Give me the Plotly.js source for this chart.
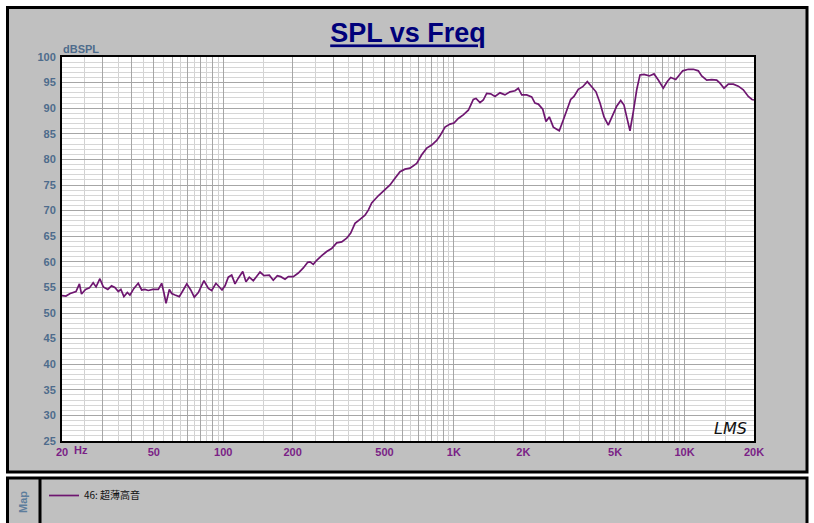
<!DOCTYPE html>
<html>
<head>
<meta charset="utf-8">
<script src="https://cdn.plot.ly/plotly-3.0.1.min.js"></script>
<style>
html,body{margin:0;padding:0;background:#fff;}
#chart{width:814px;height:523px;}
</style>
</head>
<body>
<div id="chart"></div>
<script>
// ---- data ----
var freqHz = [20,20.8,21.7,22.4,23.0,23.8,24.3,25.3,26.3,27.3,
28.1,29.2,30.2,31.6,32.8,33.9,35.1,36.0,37.1,38.4,
39.4,41.0,42.8,44.3,45.8,47.3,49.5,52.3,54.1,55.4,
56.5,58.4,59.8,61.8,64.5,67.1,69.5,72.3,74.9,78.0,
82.5,86.2,89.1,93.0,98.8,101.8,105.2,108.8,112.5,116.2,
121.5,125.5,129.7,135.0,139.7,144.4,150.2,158.4,164.8,171.6,
177.5,185.3,191.5,201.3,211.6,222.4,232.4,237.7,245.7,254.2,
267.2,280.9,295.2,310.4,326.3,343.0,357.0,372.6,391.7,411.8,
425.5,440.2,470.1,502.7,528.5,555.5,584.0,613.8,645.2,689.8,
725.2,762.4,801.3,842.3,870.5,915.1,961.9,1001,1045,1098,
1155,1183,1214,1247,1298,1341,1387,1444,1507,1584,
1665,1751,1840,1902,1968,2068,2174,2246,2322,2427,
2508,2592,2698,2790,2863,2980,3083,3209,3316,3462,
3618,3788,3958,4130,4300,4475,4670,4880,5079,5286,
5463,5612,5800,5994,6202,6409,6670,7032,7371,7694,
8088,8418,8709,9155,9490,9818,10382,10912,11470,11866,
12474,13112,13782,14244,14826,15476,16270,17102,17976,18894,
19604,20000];

var splDb = [53.4,53.3,53.8,54.0,54.2,55.7,53.7,54.6,54.9,55.9,
55.1,56.7,55.1,54.6,55.3,55.0,54.2,54.6,53.2,54.0,
53.5,54.8,55.8,54.5,54.6,54.4,54.6,54.6,55.8,53.8,
51.9,54.6,53.8,53.5,53.2,54.5,55.7,54.5,53.1,54.0,
56.3,54.8,54.4,55.8,54.5,55.3,57.0,57.4,55.7,56.8,
58.1,56.1,57.0,56.3,57.1,58.0,57.3,57.4,56.4,57.3,
57.1,56.6,57.1,57.1,57.8,58.8,59.9,60.0,59.5,60.3,
61.2,62.0,62.6,63.7,63.9,64.6,65.6,67.5,68.3,69.1,
70.1,71.5,72.9,74.0,75.0,76.3,77.6,78.1,78.3,79.2,
80.9,82.2,82.8,83.7,84.6,86.3,86.9,87.1,88.0,88.7,
89.6,90.6,91.7,91.9,91.1,91.6,92.9,92.8,92.3,93.0,
92.6,93.2,93.4,93.9,92.6,92.6,92.2,91.0,90.8,89.8,
87.4,88.3,86.3,85.9,85.6,87.7,89.6,91.7,92.3,93.7,
94.2,95.2,94.2,93.2,91.0,88.3,86.7,88.7,90.4,91.5,
90.6,88.3,85.6,89.3,93.6,96.5,96.6,96.3,96.7,95.5,
93.9,95.2,96.0,95.6,96.5,97.3,97.6,97.6,97.3,96.3,
95.5,95.6,95.5,94.9,93.9,94.7,94.7,94.3,93.6,92.3,
91.7,91.6];

var seriesName = "46: 超薄高音";

// major x grid positions (1..9 per decade) and their labels
var xGridMajor = [20,30,40,50,60,70,80,90,100,200,300,400,500,600,700,800,900,
  1000,2000,3000,4000,5000,6000,7000,8000,9000,10000,20000];
var xLabelMap = {20:"20",50:"50",100:"100",200:"200",500:"500",1000:"1K",2000:"2K",
  5000:"5K",10000:"10K",20000:"20K"};
// half-step x grid (x.5 per decade)
var xGridMinor = [25,35,45,55,65,75,85,95,150,250,350,450,550,650,750,850,950,
  1500,2500,3500,4500,5500,6500,7500,8500,9500,15000];

var yRange = [25,100];
var xRange = [20,20000];

// ---- layout geometry (pixels) ----
var W=814,H=523, L=62, R=754, T=57, B=441;
function px(x){return (x-L)/(R-L);}
function py(y){return (B-y)/(B-T);}

var tickText = xGridMajor.map(function(v){return xLabelMap[v]||"";});

var trace = {
  x: freqHz, y: splDb, type:'scatter', mode:'lines', name: seriesName,
  line:{color:'#6e1670', width:1.7}, hoverinfo:'skip'
};

var blueGray = '#4e6c8c';
var purple = '#7a1f86';
var narrow = 'Liberation Sans Narrow, Arial Narrow, Liberation Sans, sans-serif';
var layout = {
  width:W, height:H,
  margin:{l:L, r:W-R, t:T, b:H-B, pad:0},
  paper_bgcolor:'#ffffff',
  plot_bgcolor:'rgba(0,0,0,0)',
  showlegend:true,
  legend:{x:px(44), y:py(481), xanchor:'left', yanchor:'top', bgcolor:'rgba(0,0,0,0)',
    font:{family:'Noto Sans CJK SC, sans-serif', size:10, color:'#111'},
    itemwidth:30, tracegroupgap:0},
  title:{text:'SPL vs Freq', x:0.5, xref:'paper', xanchor:'center',
    y:1-33/H, yref:'container', yanchor:'middle',
    font:{family:'Liberation Sans, Arial, sans-serif', size:27, color:'#00007a', weight:'bold', lineposition:'under'}},
  xaxis:{
    type:'log', range:[Math.log10(xRange[0]), Math.log10(xRange[1])],
    tickmode:'array', tickvals:xGridMajor, ticktext:tickText,
    showgrid:true, gridcolor:'#a6a6a6', gridwidth:1,
    minor:{tickmode:'array', tickvals:xGridMinor, showgrid:true, gridcolor:'#d2d2d2', gridwidth:1, ticks:''},
    ticks:'', showline:true, linecolor:'#000', linewidth:2, mirror:true,
    zeroline:false, fixedrange:true,
    tickfont:{family:narrow, size:11, color:purple, weight:'bold'},
    ticklabelstandoff:0
  },
  yaxis:{
    range:yRange, tickmode:'linear', tick0:25, dtick:5,
    showgrid:true, gridcolor:'#a6a6a6', gridwidth:1,
    minor:{dtick:1, showgrid:true, gridcolor:'#d6d6d6', gridwidth:1, ticks:''},
    ticks:'', showline:true, linecolor:'#000', linewidth:2, mirror:true,
    zeroline:false, fixedrange:true,
    tickfont:{family:'Liberation Sans, Arial, sans-serif', size:11, color:blueGray, weight:'bold'},
    ticklabelstandoff:2
  },
  shapes:[
    // top panel
    {type:'rect', xref:'paper', yref:'paper', layer:'below',
      x0:px(7.5), x1:px(807), y0:py(7.5), y1:py(472),
      fillcolor:'#c0c0c0', line:{color:'#000', width:3}},
    // bottom panel
    {type:'rect', xref:'paper', yref:'paper', layer:'below',
      x0:px(7.5), x1:px(807), y0:py(478), y1:py(540),
      fillcolor:'#c0c0c0', line:{color:'#000', width:3}},
    // map column divider
    {type:'line', xref:'paper', yref:'paper', layer:'below',
      x0:px(40), x1:px(40), y0:py(478), y1:py(530), line:{color:'#000', width:3}},
    // white plotting area
    {type:'rect', xref:'paper', yref:'paper', layer:'below',
      x0:0, x1:1, y0:0, y1:1, fillcolor:'#ffffff', line:{width:0}}
  ],
  annotations:[
    {text:'dBSPL', xref:'paper', yref:'paper', x:px(61), y:py(49), xanchor:'left', yanchor:'middle',
      showarrow:false, font:{family:'Liberation Sans, Arial, sans-serif', size:11, color:blueGray, weight:'bold'}},
    {text:'Hz', xref:'paper', yref:'paper', x:px(72), y:py(450), xanchor:'left', yanchor:'middle',
      showarrow:false, font:{family:narrow, size:11, color:purple, weight:'bold'}},
    {text:'<i>LMS</i>', xref:'paper', yref:'paper', x:px(730), y:py(428), xanchor:'center', yanchor:'middle',
      showarrow:false, font:{family:'DejaVu Sans, sans-serif', size:16, color:'#111', weight:300}},
    {text:'Map', xref:'paper', yref:'paper', x:px(23), y:py(502), xanchor:'center', yanchor:'middle',
      textangle:-90, showarrow:false, font:{family:'Liberation Sans, Arial, sans-serif', size:11, color:'#5d7d9c', weight:'bold'}}
  ]
};

Plotly.newPlot('chart', [trace], layout, {displayModeBar:false, staticPlot:true});
</script>
</body>
</html>
